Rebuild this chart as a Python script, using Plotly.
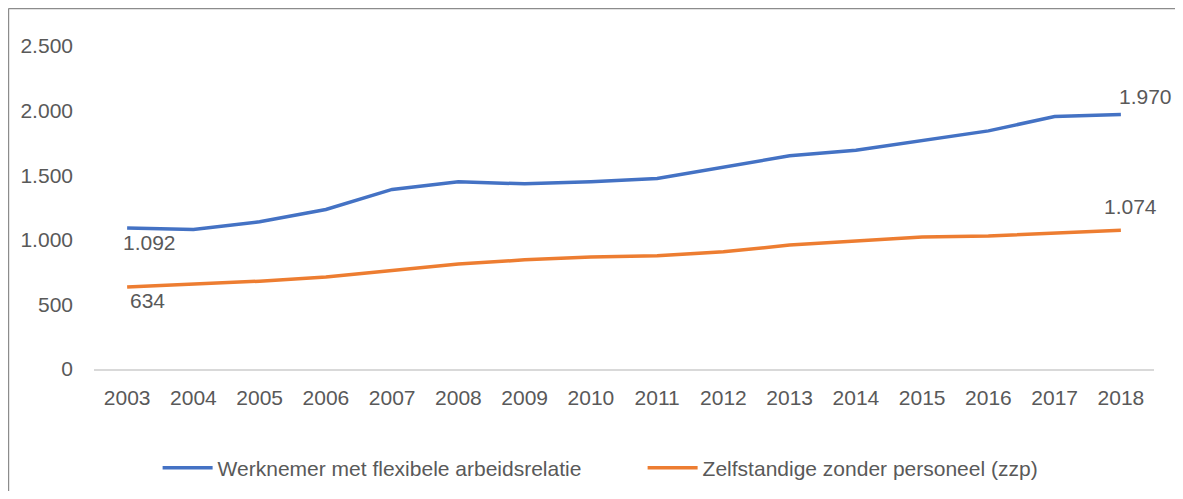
import plotly.graph_objects as go

# Jaren en aantallen (x 1.000)
jaren = [str(j) for j in range(2003, 2019)]
flex = [1092, 1080, 1139, 1235, 1390, 1449, 1433, 1450, 1475, 1565, 1650, 1694, 1771, 1843, 1954, 1970]
zzp = [634, 655, 680, 712, 760, 812, 845, 866, 876, 907, 959, 992, 1021, 1029, 1054, 1074]

naam_flex = "Werknemer met flexibele arbeidsrelatie"
naam_zzp = "Zelfstandige zonder personeel (zzp)"

y_ticks = [0, 500, 1000, 1500, 2000, 2500]

blauw = "#4472C4"
oranje = "#ED7D31"
tekst = "#595959"
font = "Liberation Sans"


def nl(v):
    # Nederlandse duizendtallen-scheiding
    return f"{v:,}".replace(",", ".")


fig = go.Figure()
fig.add_trace(go.Scatter(x=jaren, y=flex, mode="lines", name=naam_flex,
                         line=dict(color=blauw, width=3.5)))
fig.add_trace(go.Scatter(x=jaren, y=zzp, mode="lines", name=naam_zzp,
                         line=dict(color=oranje, width=3.5)))

# datalabels bij begin- en eindpunten (x als categorie-index)
eerste, laatste = 0, len(jaren) - 1
labels = [
    (eerste, flex[0], "left", "top", -6, -1),
    (eerste, zzp[0], "left", "top", 1, 0),
    (laatste, flex[-1], "left", "bottom", -4, 4),
    (laatste, zzp[-1], "center", "bottom", 10, 10),
]
for x, y, xa, ya, dx, dy in labels:
    fig.add_annotation(x=x, y=y, text=nl(y), showarrow=False, xanchor=xa, yanchor=ya,
                       xshift=dx, yshift=dy, font=dict(size=21, color=tekst, family=font))

# kader rond de grafiek (links en boven zichtbaar)
kader = dict(color="#8C8C8C", width=1.5)
fig.add_shape(type="line", xref="paper", yref="paper", x0=-0.0807, x1=-0.0807, y0=-0.45, y1=1.116,
              line=kader, layer="below")
fig.add_shape(type="line", xref="paper", yref="paper", x0=-0.0807, x1=1.1, y0=1.116, y1=1.116,
              line=kader, layer="below")

fig.update_layout(
    width=1167, height=483,
    margin=dict(l=86, r=21, t=38, b=122),
    paper_bgcolor="white", plot_bgcolor="white",
    font=dict(family=font, size=21, color=tekst),
    showlegend=True,
    legend=dict(orientation="h", xref="container", yref="container",
                x=0.1282, y=0.0476, xanchor="left", yanchor="middle",
                itemwidth=50, entrywidth=420, font=dict(size=21, color=tekst, family=font)),
    xaxis=dict(type="category", range=[-0.5, len(jaren) - 0.5], showgrid=False, zeroline=False,
               showline=True, linecolor="#D9D9D9", linewidth=1.5,
               ticks="", ticklabelstandoff=9, tickfont=dict(size=21, color=tekst)),
    yaxis=dict(range=[0, 2500], tickvals=y_ticks, ticktext=[nl(v) for v in y_ticks],
               showgrid=False, zeroline=False, showline=False,
               ticks="", ticklabelstandoff=20, tickfont=dict(size=21, color=tekst)),
)

fig.write_html("out.html")
